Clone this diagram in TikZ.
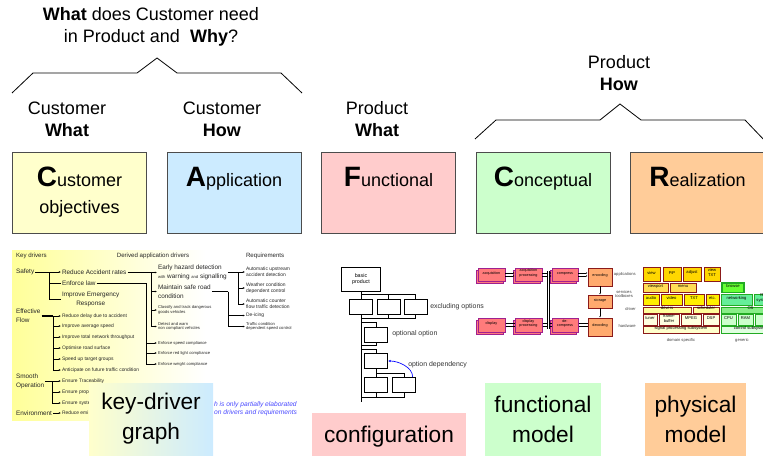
\documentclass[tikz,border=0pt]{standalone}
\usepackage{fontspec}
\setmainfont{Liberation Sans}
\usetikzlibrary{arrows.meta,shadows,fit}

\definecolor{cafyellow}{HTML}{FFFFCC}
\definecolor{cafblue}{HTML}{CCEBFF}
\definecolor{cafpink}{HTML}{FFCCCC}
\definecolor{cafgreen}{HTML}{CCFFCC}
\definecolor{caforange}{HTML}{FFCC99}
\definecolor{kdyellow}{HTML}{FFFF99}
\definecolor{kdblue}{HTML}{4848FF}
\definecolor{fmpink}{HTML}{FF7B7B}
\definecolor{fmpurple}{HTML}{A0208F}
\definecolor{fmorange}{HTML}{FFAA6E}
\definecolor{pmred}{HTML}{8B1A1A}
\definecolor{pmgold}{HTML}{FFD700}
\definecolor{pmamber}{HTML}{FFDD55}
\definecolor{pmyellow}{HTML}{FFEE00}
\definecolor{pmlight}{HTML}{FFFF99}
\definecolor{pmpale}{HTML}{FFFFE0}
\definecolor{pmgreen}{HTML}{22AA22}
\definecolor{pmlime}{HTML}{66FF33}
\definecolor{pmmint}{HTML}{66EE99}
\definecolor{pmos}{HTML}{88EE88}
\definecolor{pmpalegreen}{HTML}{CCFFCC}

\newcommand{\caf}[1]{{\fontsize{21}{21}\selectfont\bfseries #1}}
\newcommand{\kdt}{\fontsize{3.1}{3.6}\selectfont}

\tikzset{
  hdr/.style={font=\fontsize{13.5}{16.5}\selectfont, align=center, inner sep=0pt},
  viewbracket/.style={line width=0.6pt},
  cafbox/.style={draw=black!70, line width=0.5pt, minimum width=100.5pt, minimum height=61pt, inner sep=0pt},
  caftext/.style={font=\fontsize{13.5}{16}\selectfont, inner sep=0pt, anchor=base},
  tagbox/.style={inner sep=0pt, font=\fontsize{17}{22.5}\selectfont, align=center},
  kd/.style={inner sep=0.6pt, anchor=west, align=left, text=black!85},
  kdhead/.style={kd, font=\fontsize{4.6}{5.4}\selectfont},
  kdmid/.style={kd, font=\fontsize{4.8}{6.8}\selectfont},
  kdsmall/.style={kd, font=\fontsize{3.7}{4.5}\selectfont},
  kdtiny/.style={kd, font=\kdt},
  kdnote/.style={kd, font=\fontsize{5}{6}\selectfont\itshape, text=kdblue},
  kdline/.style={line width=0.5pt},
  kdarrow/.style={kdline, -{Latex[length=1.6pt,width=1.4pt]}},
  cfgbox/.style={draw, fill=white, line width=0.5pt, inner sep=0pt, align=center,
    font=\fontsize{4}{4.8}\selectfont, minimum width=17.5pt, minimum height=11.5pt},
  cfgline/.style={line width=0.45pt},
  cfgtext/.style={inner sep=0pt, anchor=west, font=\fontsize{5.2}{6}\selectfont, text=black!80},
  deparrow/.style={blue, line width=0.5pt, -{Latex[length=2pt,width=1.8pt]}},
  fmbox/.style={draw=fmpurple, fill=fmpink, line width=0.5pt, inner sep=0pt, align=center,
    font=\fontsize{2.8}{3.2}\selectfont,
    copy shadow={shadow xshift=-1.3pt, shadow yshift=-1.7pt, fill=fmpink, draw=fmpurple}},
  fmstore/.style={draw=pmred, fill=fmorange, line width=0.6pt, inner sep=0pt,
    font=\fontsize{2.8}{3.2}\selectfont},
  fmline/.style={line width=0.4pt},
  fmarrow/.style={fmline, -{Latex[length=1.2pt,width=1pt]}},
  pmbox/.style={draw=pmred, line width=0.6pt, inner sep=0pt, align=center,
    font=\fontsize{3.1}{3.5}\selectfont},
  pmgbox/.style={pmbox, draw=pmgreen},
  pmtext/.style={inner sep=0pt, align=center, font=\fontsize{3.1}{3.6}\selectfont, text=black!75}
}

\begin{document}
\begin{tikzpicture}[x=0.75pt, y=-0.75pt]
\useasboundingbox (0,0) rectangle (763,456);

% Questions and brackets
\node[hdr, font=\fontsize{13.5}{17}\selectfont] (why) at (151,27)
  {\textbf{What} does Customer need\\ in Product and \ \textbf{Why}?};
\draw[viewbracket] (12,93) -- (33,73) -- (137,73) -- (157,58) -- (177,73) -- (281,73) -- (302,93);
\draw[viewbracket] (475,139) -- (496,120) -- (600,120) -- (620,104) -- (641,120) -- (745,120) -- (766,142);

\node[hdr] (cwhat) at (67,119) {Customer\\\textbf{What}};
\node[hdr] (chow) at (222,119) {Customer\\\textbf{How}};
\node[hdr] (pwhat) at (377,119) {Product\\\textbf{What}};
\node[hdr] (phow) at (619,73) {Product\\\textbf{How}};

% CAFCR views
\node[cafbox, fill=cafyellow] (cust) at (79.5,193) {};
\node[cafbox, fill=cafblue] (appl) at (234,193) {};
\node[cafbox, fill=cafpink] (func) at (388.5,193) {};
\node[cafbox, fill=cafgreen] (conc) at (543,193) {};
\node[cafbox, fill=caforange] (real) at (697.5,193) {};

\node[caftext] (custa) at (79.5,186) {\caf{C}ustomer};
\node[caftext] (custb) at (79.5,213) {objectives};
\node[caftext] (applt) at (234,186) {\caf{A}pplication};
\node[caftext] (funct) at (388.5,186) {\caf{F}unctional};
\node[caftext] (conct) at (543,186) {\caf{C}onceptual};
\node[caftext] (realt) at (697.5,186) {\caf{R}ealization};

% Key-driver graph
\fill[left color=kdyellow, right color=white] (12,250) rectangle (205,420);
\node[kdhead] (kdk) at (15,256) {Key drivers};
\node[kdhead, anchor=center] (kdd) at (153,256) {Derived application drivers};
\node[kdhead] (kdr) at (245,256) {Requirements};

\node[kdmid] (sa) at (15,272) {Safety};
\node[kdmid] (rar) at (61,272) {Reduce Accident rates};
\node[kdmid] (el) at (61,283) {Enforce law};
\node[kdmid, align=center] (ie) at (61,299.5) {Improve Emergency\\Response};
\draw[kdarrow] (sa) -- (rar);
\coordinate (sj) at (49,272);
\draw[kdline] (sj) |- (el);
\draw[kdline] (sj) |- (ie);

\node[kdmid] (ef) at (15,315.5) {Effective\\Flow};
\coordinate (fj) at (53,316);
\draw[kdline, line width=1.2pt] (ef.east |- fj) -- (fj);
\foreach \n/\y/\t in {f1/316/Reduce delay due to accident, f2/326/Improve average speed,
    f3/337/Improve total network throughput, f4/348/Optimise road surface,
    f5/359/Speed up target groups, f6/370/Anticipate on future traffic condition} {
  \node[kdsmall] (\n) at (61,\y) {\t};
  \draw[kdarrow] (fj) |- (\n);
}

\node[kdmid] (so) at (15,381.5) {Smooth\\Operation};
\coordinate (oj) at (52,381);
\draw[kdline] (so.east |- oj) -- (oj);
\foreach \n/\y/\t in {s1/381/Ensure Traceability, s2/392/Ensure prop, s3/403/Ensure syste} {
  \node[kdsmall] (\n) at (61,\y) {\t};
  \draw[kdarrow] (oj) |- (\n);
}

\node[kdmid] (en) at (15,413) {Environment};
\node[kdsmall] (e1) at (61,413) {Reduce emi};
\draw[kdarrow] (en) -- (e1);

\node[kdmid] (d1) at (157,272.5) {Early hazard detection\\{\kdt with} warning {\kdt and} signalling};
\node[kdmid] (d2) at (157,291.5) {Maintain safe road\\condition};
\node[kdtiny] (d3) at (157,310) {Classify and track dangerous\\goods vehicles};
\node[kdtiny] (d4) at (157,326.5) {Detect and warn\\non compliant vehicles};
\node[kdtiny] (d5) at (157,343) {Enforce speed compliance};
\node[kdtiny] (d6) at (157,353) {Enforce red light compliance};
\node[kdtiny] (d7) at (157,364) {Enforce weight compliance};
\coordinate (rj) at (151,272);
\draw[kdline] (rar) -- (rj);
\foreach \n in {d1,d2,d3,d4} \draw[kdarrow] (rj) |- (\n);
\coordinate (ej) at (146,283);
\draw[kdline] (el) -- (ej);
\foreach \n in {d5,d6,d7} \draw[kdarrow] (ej) |- (\n);

\node[kdsmall] (r1) at (245,272) {Automatic upstream\\accident detection};
\node[kdsmall] (r2) at (245,288) {Weather condition\\dependent control};
\node[kdsmall] (r3) at (245,304) {Automatic counter\\flow traffic detection};
\node[kdsmall] (r4) at (245,315.5) {De-icing};
\node[kdtiny] (r5) at (245,326.5) {Traffic condition\\dependent speed control};
\coordinate (hj) at (238,272.5);
\draw[kdline] (d1) -- (hj);
\foreach \n in {r1,r2,r3} \draw[kdarrow] (hj) |- (\n);
\coordinate (mj) at (228,291.5);
\draw[kdline] (d2) -- (mj);
\foreach \n in {r4,r5} \draw[kdarrow] (mj) |- (\n);

\node[kdnote] (nt1) at (213,405) {h is only partially elaborated};
\node[kdnote] (nt2) at (213,413) {on drivers and requirements};

% Configuration
\node[cfgbox, minimum width=29.25pt, minimum height=18pt] (bp) at (361,279) {basic\\product};
\coordinate (sp) at (361,402);
\draw[cfgline] (bp.south) -- (sp);
\coordinate (b1) at (361,294);
\coordinate (b2) at (361,318);
\node[cfgbox] (ex1) at (361,307) {};
\node[cfgbox] (ex2) at (388.5,307) {};
\node[cfgbox] (ex3) at (415.5,307) {};
\draw[cfgline] (b1) -| (ex3.north);
\draw[cfgline] (ex2.north) -- (ex2.north |- b1);
\draw[cfgline] (b2) -| (ex3.south);
\draw[cfgline] (ex2.south) -- (ex2.south |- b2);
\node[cfgtext] (xo) at (430,307) {excluding options};

\node[cfgbox] (opt) at (376,334.5) {};
\coordinate (b3) at (361,322);
\coordinate (b4) at (361,345);
\draw[cfgline] (b3) -| (opt.north);
\draw[cfgline] (b4) -| (opt.south);
\node[cfgtext] (oo) at (392,334) {optional option};

\node[cfgbox] (dep1) at (376,361) {};
\node[cfgbox] (dep2) at (376,385) {};
\node[cfgbox] (dep3) at (404,385) {};
\coordinate (b5) at (361,349);
\draw[cfgline] (b5) -| (dep1.north);
\draw[cfgline] (dep1.south) -- (dep2.north);
\coordinate (b6) at (376,373);
\draw[cfgline] (b6) -| (dep3.north);
\coordinate (b7) at (361,397);
\draw[cfgline] (b7) -| (dep3.south);
\draw[cfgline] (dep2.south) -- (dep2.south |- b7);
\draw[deparrow] ([xshift=-2.5pt]dep3.north east) .. controls +(0,-10) and +(10,0) .. (dep1.east);
\node[cfgtext] (od) at (408,365) {option dependency};

% Functional model
\foreach \n/\xa/\ya/\xb/\yb/\t in {fa/478/268/505/281/acquisition,
    fap/515/268/542/281/{acquisition\\processing}, fc/552/268/578/281/compress,
    fd/478/318/505/332/display, fdp/515/318/542/332/{display\\processing},
    fdc/552/318/578/332/{de-\\compress}}
  \node[fmbox, fit={(\xa,\ya) (\xb,\yb)}] (\n) {\t};
\node[fmstore, fit={(588,268) (612,286)}] (fen) {encoding};
\node[fmstore, fit={(588,295) (612,308)}] (fst) {storage};
\node[fmstore, fit={(588,318) (612,336)}] (fde) {decoding};
\foreach \a/\b in {fa/fap, fap/fc, fc/fen} {
  \draw[fmarrow] ([yshift=1.1pt]\a.east) -- ([yshift=1.1pt]\a.east -| \b.west);
  \draw[fmarrow] ([yshift=-1.1pt]\a.east) -- ([yshift=-1.1pt]\a.east -| \b.west);
}
\foreach \a/\b in {fde/fdc, fdc/fdp, fdp/fd} {
  \draw[fmarrow] ([yshift=1.1pt]\b.east -| \a.west) -- ([yshift=1.1pt]\b.east);
  \draw[fmarrow] ([yshift=-1.1pt]\b.east -| \a.west) -- ([yshift=-1.1pt]\b.east);
}
\coordinate (fv1) at (548.5,271);
\coordinate (fv2) at (548.5,329);
\draw[fmline, double, double distance=1pt] (fv1) -- (fv2);
\draw[fmarrow] (fen) -- (fst);
\draw[fmarrow] (fst) -- (fde);

\node[pmtext, anchor=east] (la) at (636,274.5) {applications};
\node[pmtext] (ls) at (624,294) {services\\toolboxes};
\node[pmtext, anchor=east] (ld) at (636,309.5) {driver};
\node[pmtext, anchor=east] (lh) at (636,326) {hardware};

% Physical model
\foreach \n/\xa/\xb/\t in {pv/643/660/view, pp/663/681/PiP, pa/683/701/adjust, pt/704/720/{view\\TXT}}
  \node[pmbox, fill=pmgold, fit={(\xa,267) (\xb,281.5)}] (\n) {\t};
\foreach \n/\xa/\xb/\t in {pvp/643/668/viewport, pme/670/696/menu}
  \node[pmbox, fill=pmamber, fit={(\xa,283) (\xb,292.5)}] (\n) {\t};
\foreach \n/\xa/\xb/\t in {pau/643/659/audio, pvi/661/682/video, ptx/684/704/TXT, pet/706/719/etc.}
  \node[pmbox, fill=pmyellow, fit={(\xa,294) (\xb,305.5)}] (\n) {\t};
\node[pmbox, fill=pmlight, fit={(643,307) (691,313)}] (pdr) {drivers};
\node[pmbox, fill=pmlight, fit={(693,307) (719,313)}] (psc) {scheduler};
\foreach \n/\xa/\xb/\t in {ptu/643/657/tuner, pfb/659/679/{frame-\\buffer}, pmp/681/701/MPEG, pds/703/719/DSP}
  \node[pmbox, fill=pmpale, fit={(\xa,314.5) (\xb,325)}] (\n) {\t};
\node[pmbox, fill=cafyellow, fit={(643,326.5) (719,333.5)}] (psp) {signal processing subsystem};

\node[pmgbox, fill=pmlime, line width=0.8pt, fit={(722,283) (744,292.5)}] (pbr) {browse};
\node[pmgbox, fill=pmmint, fit={(721,294) (752,305.5)}] (pnw) {networking};
\node[pmgbox, fill=pmmint, fit={(754,294) (772,305.5)}] (pfs) {file\\system};
\node[pmgbox, fill=pmos, fit={(721,307) (780,313)}] (pos) {OS};
\foreach \n/\xa/\xb/\t in {pcp/721/736/CPU, pra/738/753/RAM, pec/755/780/etc}
  \node[pmgbox, fill=pmpalegreen, fit={(\xa,314.5) (\xb,325)}] (\n) {\t};
\node[pmgbox, fill=pmpalegreen!60!white, fit={(721,326.5) (780,333.5)}] (pcs) {control subsystem};

\node[pmtext] (pdom) at (681,340) {domain specific};
\node[pmtext] (pgen) at (742,340) {generic};

% Labels of the views
\node[tagbox, left color=cafyellow, right color=cafblue, minimum width=93pt, minimum height=54pt] (kdg) at (151,419) {key-driver\\graph};
\node[tagbox, fill=cafpink, minimum width=115.5pt, minimum height=35pt] (cfg) at (389,436.5) {configuration};
\node[tagbox, fill=cafgreen, minimum width=87pt, minimum height=54.75pt] (fmod) at (543,419.5) {functional\\model};
\node[tagbox, fill=caforange, minimum width=75.75pt, minimum height=54.75pt] (pmod) at (695.5,419.5) {physical\\model};

\end{tikzpicture}
\end{document}
